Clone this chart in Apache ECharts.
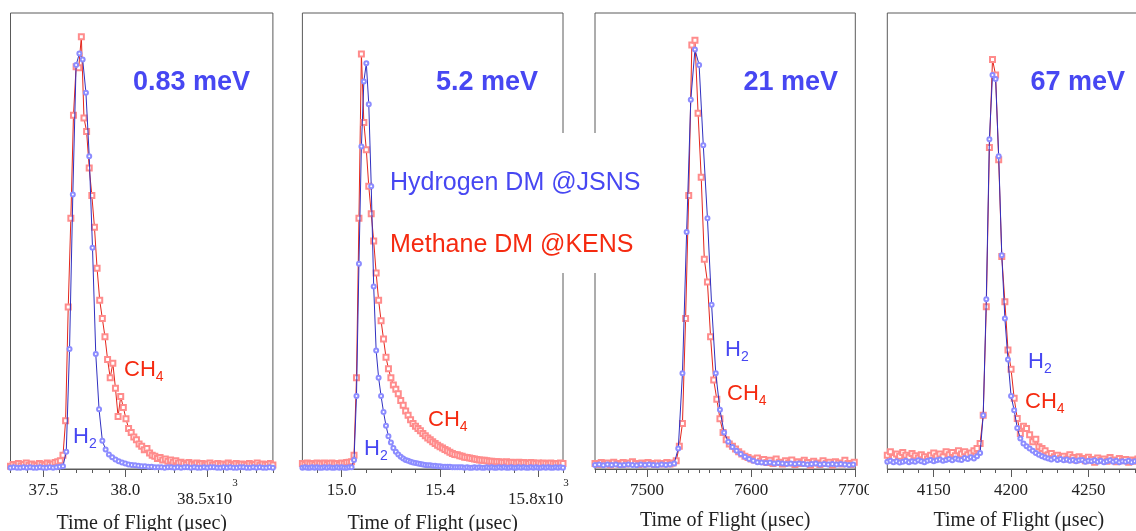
<!DOCTYPE html>
<html>
<head>
<meta charset="utf-8">
<script src="https://cdn.jsdelivr.net/npm/echarts@6/dist/echarts.min.js"></script>
<style>
  html, body { margin: 0; padding: 0; background: #fff; }
  #chart { width: 1136px; height: 531px; }
</style>
</head>
<body>
<div id="chart"></div>
<script>
// normalised intensity, one value per TOF channel
// panel 1: 0.83 meV, time in 10^3 usec
const p1Start = 37.30;
const p1StepH2 = 0.02;
const p1StepCH4 = 0.016;
const p1H2 = [0.003,0.004,0.003,0.003,0.004,0.003,0.004,0.003,0.003,0.004,0.003,0.003,0.004,0.003,0.004,0.005,0.006,
  0.038,0.263,0.602,0.886,0.911,0.898,0.825,0.686,0.485,0.252,0.131,0.062,0.043,0.032,0.026,0.021,0.017,0.014,0.012,0.010,0.009,0.008,0.007,0.006,0.006,0.005,0.005,
  0.004,0.004,0.004,0.003,0.004,0.004,0.003,0.004,0.003,0.004,0.004,0.003,0.004,0.003,0.003,0.004,0.003,0.004,0.004,0.003,0.003,0.004,0.003,0.004,0.003,0.003,0.004,0.004,0.003,0.003,0.004,0.003,0.004,0.003,0.003,0.004,0.003];
const p1CH4 = [0.006,0.010,0.008,0.012,0.007,0.010,0.013,0.008,0.011,0.009,0.007,0.012,0.010,0.008,0.013,0.010,0.011,0.014,0.016,0.018,
  0.030,0.106,0.355,0.55,0.776,0.882,0.88,0.948,0.77,0.74,0.66,0.60,0.53,0.44,0.37,0.33,0.29,0.24,0.20,0.232,0.177,0.115,0.159,0.135,0.11,0.089,0.08,0.07,0.064,0.055,0.05,0.042,0.045,0.035,0.03,0.028,0.023,0.025,0.020,0.022,0.017,0.020,0.015,0.018,0.013,0.015,
  0.012,0.010,0.014,0.011,0.009,0.013,0.010,0.012,0.008,0.011,0.013,0.009,0.010,0.012,0.008,0.011,0.009,0.013,0.010,0.008,0.012,0.009,0.011,0.010,0.008,0.012,0.009,0.010,0.013,0.008,0.011,0.009,0.010,0.012,0.009];
const p1Ticks = [37.5, 38.0, 38.5];
const p1Labels = ['37.5', '38.0', '38.5x10^3'];

// panel 2: 5.2 meV, time in 10^3 usec
const p2Start = 14.84;
const p2StepH2 = 0.01;
const p2StepCH4 = 0.01;
const p2H2 = [0.003,0.004,0.003,0.003,0.004,0.003,0.004,0.003,0.003,0.004,0.003,0.004,0.003,0.003,0.004,0.003,0.004,0.003,0.003,0.004,0.004,
  0.02,0.16,0.45,0.707,0.85,0.89,0.80,0.62,0.40,0.26,0.20,0.16,0.125,0.095,0.072,0.058,0.046,0.038,0.032,0.027,0.023,0.020,0.018,0.016,0.014,0.013,0.012,0.011,0.010,0.009,0.008,0.008,0.007,0.007,0.006,
  0.006,0.005,0.005,0.005,0.005,0.004,0.004,0.004,0.004,0.004,
  0.003,0.004,0.003,0.003,0.004,0.003,0.004,0.003,0.003,0.004,0.003,0.004,0.003,0.003,0.004,0.003,0.004,0.003,0.003,0.004,0.003,0.003,0.004,0.003,0.004,0.003,0.003,0.004,0.003,0.004,0.003,0.003,0.004,0.003,0.004,0.003,0.003,0.004,0.003,0.004,0.003];
const p2CH4 = [0.012,0.010,0.013,0.011,0.012,0.010,0.013,0.012,0.011,0.013,0.010,0.012,0.013,0.011,0.012,0.010,0.013,0.012,0.014,0.015,
  0.016,0.03,0.2,0.55,0.91,0.76,0.70,0.62,0.56,0.50,0.43,0.37,0.325,0.285,0.245,0.22,0.20,0.184,0.175,0.165,0.15,0.14,0.127,0.118,0.108,0.10,0.094,0.089,0.084,0.078,0.073,0.068,0.064,0.060,0.056,0.052,0.049,0.046,0.043,0.040,0.037,0.034,0.032,0.031,0.029,0.028,0.026,0.025,0.024,0.023,0.022,0.021,0.020,0.019,0.019,0.018,0.017,0.017,0.016,0.016,0.016,
  0.015,0.014,0.016,0.013,0.015,0.014,0.013,0.015,0.012,0.014,0.013,0.012,0.014,0.013,0.012,0.013,0.011,0.013,0.012,0.011,0.013,0.012,0.011,0.012,0.013,0.012];
const p2Ticks = [15.0, 15.4, 15.8];
const p2Labels = ['15.0', '15.4', '15.8x10^3'];

// panel 3: 21 meV, time in usec
const p3Start = 7450;
const p3StepH2 = 4;
const p3StepCH4 = 3;
const p3H2 = [0.009,0.010,0.008,0.010,0.009,0.010,0.008,0.009,0.010,0.009,0.008,0.010,0.009,0.010,0.009,0.008,0.010,0.009,0.010,
  0.012,0.045,0.21,0.52,0.81,0.92,0.886,0.71,0.55,0.36,0.21,0.13,0.08,0.06,0.048,0.04,0.033,0.027,0.022,0.018,0.015,
  0.014,0.013,0.014,0.012,0.013,0.012,0.011,0.012,0.011,0.012,0.011,0.010,0.011,0.012,0.010,0.011,0.010,0.011,0.010,0.011,0.010,0.009,0.010];
const p3CH4 = [0.012,0.010,0.014,0.011,0.013,0.009,0.015,0.012,0.010,0.014,0.011,0.013,0.016,0.012,0.010,0.013,0.011,0.014,0.012,0.010,0.013,0.011,0.012,0.014,0.011,0.013,
  0.018,0.05,0.10,0.33,0.60,0.93,0.94,0.78,0.64,0.46,0.41,0.29,0.195,0.153,0.11,0.08,0.064,0.055,0.05,0.044,0.038,0.033,0.028,0.025,0.022,0.020,
  0.024,0.017,0.021,0.014,0.019,0.012,0.022,0.015,0.011,0.018,0.013,0.020,0.010,0.016,0.012,0.019,0.014,0.008,0.017,0.013,0.010,0.018,0.012,0.015,0.009,0.016,0.013,0.011,0.019,0.012,0.010,0.015];
const p3Ticks = [7500, 7600, 7700];
const p3Labels = ['7500', '7600', '7700'];

// panel 4: 67 meV, time in usec
const p4Start = 4120;
const p4StepH2 = 2;
const p4StepCH4 = 2;
const p4H2 = [0.016,0.018,0.015,0.017,0.014,0.016,0.018,0.015,0.017,0.016,0.019,0.017,0.015,0.018,0.020,0.017,0.019,0.021,0.018,0.020,0.022,0.019,0.023,0.021,0.020,0.024,0.022,0.026,0.023,0.028,
  0.035,0.118,0.372,0.723,0.864,0.855,0.686,0.469,0.33,0.24,0.16,0.129,0.09,0.067,0.056,0.05,0.045,0.04,0.035,0.031,0.028,0.025,
  0.023,0.021,0.024,0.02,0.022,0.019,0.021,0.018,0.02,0.017,0.019,0.02,0.016,0.018,0.017,0.019,0.016,0.018,0.015,0.017,0.019,0.016,0.018,0.015,0.017,0.016,0.018,0.015,0.017,0.016,0.014,0.017,0.016,0.018];
const p4CH4 = [0.03,0.038,0.025,0.033,0.028,0.036,0.03,0.026,0.034,0.029,0.024,0.031,0.027,0.022,0.03,0.035,0.028,0.033,0.027,0.038,0.031,0.036,0.029,0.04,0.033,0.038,0.031,0.035,0.04,0.045,
  0.056,0.118,0.356,0.705,0.898,0.864,0.678,0.466,0.367,0.261,0.219,0.155,0.111,0.078,0.094,0.089,0.075,0.06,0.065,0.049,0.045,0.04,0.031,
  0.034,0.027,0.03,0.024,0.028,0.022,0.031,0.025,0.02,0.027,0.023,0.018,0.026,0.021,0.015,0.024,0.019,0.022,0.017,0.025,0.02,0.016,0.023,0.018,0.021,0.015,0.02,0.017,0.022,0.016,0.019,0.021,0.017];
const p4Ticks = [4150, 4200, 4250];
const p4Labels = ['4150', '4200', '4250'];

const energies = ['0.83 meV', '5.2 meV', '21 meV', '67 meV'];

const blue = '#4747f2';
const red = '#f52a10';
const serif = '"Liberation Serif", "Times New Roman", serif';
const sans = '"Liberation Sans", Arial, sans-serif';

const panels = [
  { left: 10.5, right: 863.1, min: 37.30, max: 38.90, minor: 0.1, start: p1Start, h2Step: p1StepH2, ch4Step: p1StepCH4, h2: p1H2, ch4: p1CH4, ticks: p1Ticks, labels: p1Labels },
  { left: 302.4, right: 573, min: 14.84, max: 15.90, minor: 0.1, start: p2Start, h2Step: p2StepH2, ch4Step: p2StepCH4, h2: p2H2, ch4: p2CH4, ticks: p2Ticks, labels: p2Labels },
  { left: 595, right: 280.7, min: 7450, max: 7700, minor: 10, start: p3Start, h2Step: p3StepH2, ch4Step: p3StepCH4, h2: p3H2, ch4: p3CH4, ticks: p3Ticks, labels: p3Labels },
  { left: 887.3, right: -14.3, min: 4120, max: 4290, minor: 10, start: p4Start, h2Step: p4StepH2, ch4Step: p4StepCH4, h2: p4H2, ch4: p4CH4, ticks: p4Ticks, labels: p4Labels }
];

function minorTicks(min, max, step) {
  const out = [];
  for (let k = Math.ceil(min / step - 1e-9); k * step <= max + 1e-9; k++) {
    out.push(Math.round(k * step * 1000) / 1000);
  }
  return out;
}

function toPoints(values, start, step) {
  return values.map((v, i) => [Math.round((start + i * step) * 10000) / 10000, v]);
}

const grid = [], xAxis = [], yAxis = [], series = [];
panels.forEach((p, k) => {
  grid.push({
    left: p.left, right: p.right, top: 13, bottom: 62,
    show: true, borderColor: '#5a5a5a', borderWidth: 1, backgroundColor: 'transparent',
    containLabel: false, outerBoundsMode: 'none'
  });
  xAxis.push({
    type: 'value', gridIndex: k, min: p.min, max: p.max, position: 'bottom',
    axisLine: { show: true, onZero: false, lineStyle: { color: '#5a5a5a', width: 1 } },
    axisTick: { show: true, customValues: p.ticks, length: 8, lineStyle: { color: '#5a5a5a' } },
    axisLabel: {
      show: true, customValues: p.ticks, margin: 6,
      fontFamily: serif, fontSize: 17, color: '#222',
      formatter: (val) => {
        const idx = p.ticks.findIndex(t => Math.abs(t - val) < 1e-6);
        const lab = idx >= 0 ? p.labels[idx] : '';
        if (lab.indexOf('^') >= 0) {
          const parts = lab.split('^');
          // exponent on its own short line, right-aligned above a blank placeholder
          return '{s|' + parts[1] + '}\n{n|' + parts[0] + '}{h|' + parts[1] + '}';
        }
        return '{m|' + lab + '}';
      },
      rich: {
        m: { fontFamily: serif, fontSize: 17, color: '#222', lineHeight: 32 },
        n: { fontFamily: serif, fontSize: 17, color: '#222', lineHeight: 18 },
        h: { fontFamily: serif, fontSize: 11, color: 'rgba(0,0,0,0)', lineHeight: 18 },
        s: { fontFamily: serif, fontSize: 11, color: '#222', lineHeight: 16, align: 'right' }
      }
    },
    splitLine: { show: false },
    name: 'Time of Flight (\u03bcsec)', nameLocation: 'middle', nameGap: 42,
    nameTextStyle: { fontFamily: serif, fontSize: 20, color: '#222' }
  });
  xAxis.push({
    type: 'value', gridIndex: k, min: p.min, max: p.max, position: 'bottom',
    axisLine: { show: false, onZero: false },
    axisTick: { show: true, customValues: minorTicks(p.min, p.max, p.minor), length: 4, lineStyle: { color: '#5a5a5a' } },
    axisLabel: { show: false },
    splitLine: { show: false }
  });
  yAxis.push({ type: 'value', gridIndex: k, min: 0, max: 1, show: false, splitLine: { show: false } });
  series.push({
    type: 'line', name: 'CH4', xAxisIndex: 2 * k, yAxisIndex: k,
    data: toPoints(p.ch4, p.start, p.ch4Step),
    symbol: 'emptyRect', symbolSize: 5,
    lineStyle: { color: '#e4261c', width: 1 },
    itemStyle: { color: '#ff8c8c', borderWidth: 1 },
    z: 2
  });
  series.push({
    type: 'line', name: 'H2', xAxisIndex: 2 * k, yAxisIndex: k,
    data: toPoints(p.h2, p.start, p.h2Step),
    symbol: 'emptyCircle', symbolSize: 4,
    lineStyle: { color: '#3030c0', width: 1 },
    itemStyle: { color: '#8c8cff', borderWidth: 1 },
    z: 3
  });
});

function subText(x, y, main, sub, color) {
  return {
    type: 'text', x: x, y: y, z: 110,
    style: {
      text: '{a|' + main + '}{b|' + sub + '}',
      verticalAlign: 'top',
      rich: {
        a: { fontFamily: sans, fontSize: 22, fill: color },
        b: { fontFamily: sans, fontSize: 14, fill: color, padding: [14, 0, 0, 0] }
      }
    }
  };
}

function energyText(xRight, text) {
  return {
    type: 'text', x: xRight, y: 83, z: 110,
    style: { text: text, fill: blue, font: 'bold 27px ' + sans, align: 'right', verticalAlign: 'middle' }
  };
}

const graphic = [
  energyText(250, energies[0]),
  energyText(538, energies[1]),
  energyText(838, energies[2]),
  energyText(1125, energies[3]),
  subText(124, 356, 'CH', '4', red),
  subText(73, 423, 'H', '2', blue),
  subText(428, 406, 'CH', '4', red),
  subText(364, 435, 'H', '2', blue),
  subText(725, 336, 'H', '2', blue),
  subText(727, 380, 'CH', '4', red),
  subText(1028, 348, 'H', '2', blue),
  subText(1025, 388, 'CH', '4', red),
  { type: 'rect', shape: { x: 383, y: 133, width: 218, height: 140 }, style: { fill: '#fff' }, z: 100 },
  { type: 'rect', shape: { x: 869, y: 478, width: 16, height: 30 }, style: { fill: '#fff' }, z: 100 },
  { type: 'text', x: 390, y: 183, z: 110, style: { text: 'Hydrogen DM @JSNS', fill: blue, font: '25px ' + sans, verticalAlign: 'middle' } },
  { type: 'text', x: 390, y: 245, z: 110, style: { text: 'Methane DM @KENS', fill: red, font: '25px ' + sans, verticalAlign: 'middle' } }
];

const chart = echarts.init(document.getElementById('chart'));
chart.setOption({
  animation: false,
  backgroundColor: '#fff',
  textStyle: { fontFamily: sans },
  grid: grid,
  xAxis: xAxis,
  yAxis: yAxis,
  series: series,
  graphic: graphic
});
</script>
</body>
</html>
